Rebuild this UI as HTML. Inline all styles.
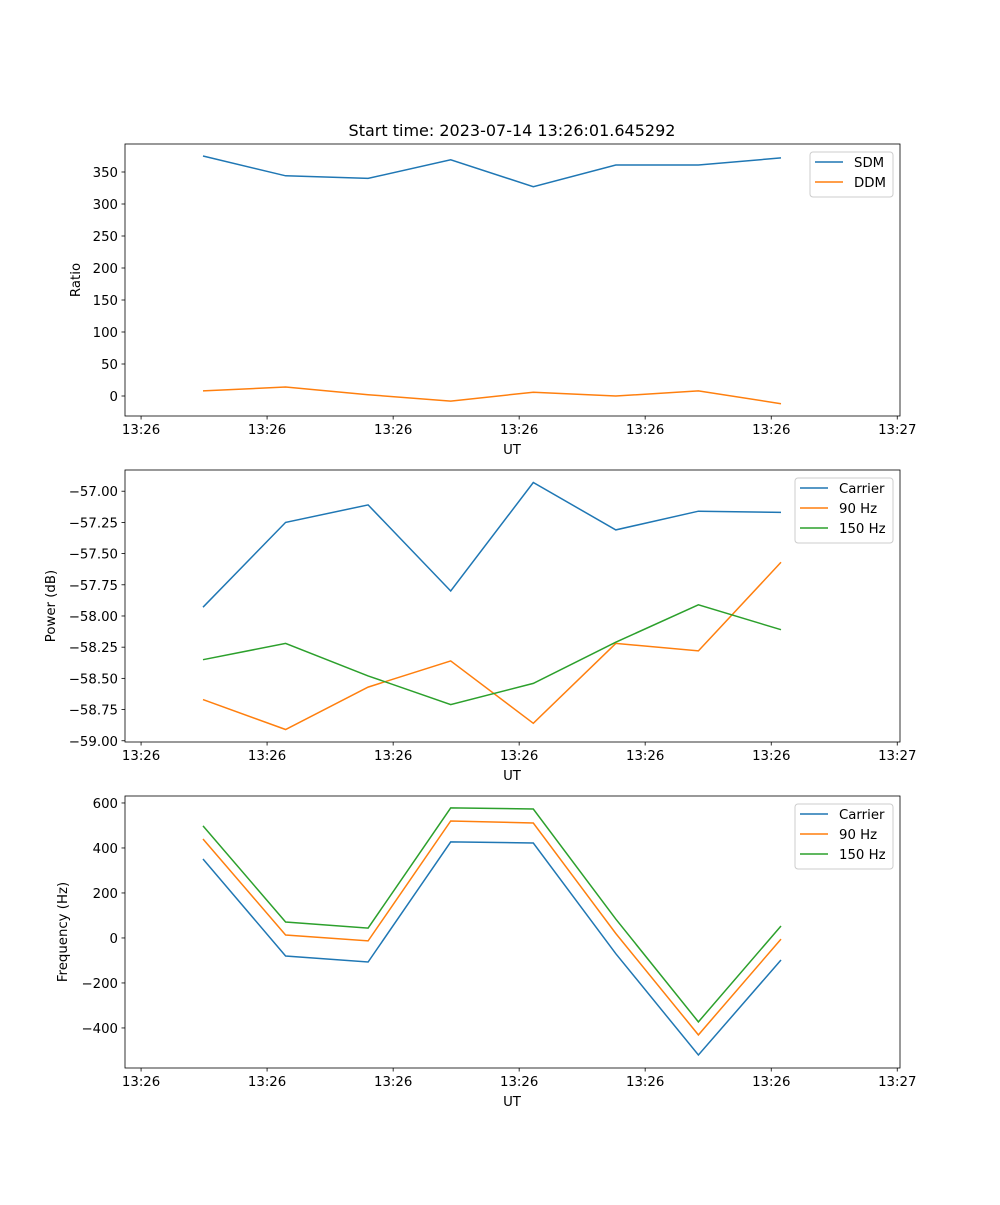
<!DOCTYPE html>
<html><head><meta charset="utf-8"><style>body{margin:0;background:#fff}svg{font-family:"DejaVu Sans","Liberation Sans",sans-serif}</style></head>
<body>
<svg id="fig" width="1000" height="1200" xmlns="http://www.w3.org/2000/svg">
<text x="512" y="136" font-size="16" text-anchor="middle">Start time: 2023-07-14 13:26:01.645292</text>
</svg>
<script>
const sampleIdx=[0,1,2,3,4,5,6,7];
const xTickVals=[-0.75,0.776,2.303,3.829,5.355,6.882,8.408];
const xTickLabels=["13:26","13:26","13:26","13:26","13:26","13:26","13:27"];
const sdm=[375,344,340,369,327,361,361,372];
const ddm=[8,14,2,-8,6,0,8,-12];
const ratioTicks=[0,50,100,150,200,250,300,350];
const pwrCarrier=[-57.93,-57.25,-57.11,-57.80,-56.93,-57.31,-57.16,-57.17];
const pwr90=[-58.67,-58.91,-58.57,-58.36,-58.86,-58.22,-58.28,-57.57];
const pwr150=[-58.35,-58.22,-58.48,-58.71,-58.54,-58.21,-57.91,-58.11];
const pwrTicks=[-57.00,-57.25,-57.50,-57.75,-58.00,-58.25,-58.50,-58.75,-59.00];
const frqCarrier=[351,-80,-107,427,422,-70,-520,-98];
const frq90=[440,13,-13,520,511,20,-431,-5];
const frq150=[498,71,44,578,573,84,-373,53];
const frqTicks=[600,400,200,0,-200,-400];

const NS="http://www.w3.org/2000/svg";
const svg=document.getElementById('fig');
function mk(tag,at,parent){const e=document.createElementNS(NS,tag);for(const k in at)e.setAttribute(k,at[k]);(parent||svg).appendChild(e);return e;}
const L=125,R=900,FS=13.3;
function xS(v){return 203+(v)*82.57;}
function panel(name,top,bot,ymin,ymax,yTicks,fmt,ylabel,series,legendBox){
  const g=mk('g',{});
  
  
  const yS=v=>bot-(v-ymin)/(ymax-ymin)*(bot-top);
  series.forEach(s=>{
    const pts=s.vals.map((v,i)=>xS(sampleIdx[i]).toFixed(1)+','+yS(v).toFixed(1)).join(' ');
    const p=mk('polyline',{points:pts,fill:'none',stroke:s.color,'stroke-width':1.5},g);
    
    
  });
  const fr=mk('rect',{x:L,y:top,width:R-L,height:bot-top,fill:'none',stroke:'#000','stroke-width':0.8},g);
  
  
  xTickVals.forEach((v,i)=>{const x=xS(v);
    mk('line',{x1:x,x2:x,y1:bot,y2:bot+3.5,stroke:'#000','stroke-width':0.8},g);
    const t=mk('text',{x:x,y:bot+18,'font-size':FS,'text-anchor':'middle'},g);t.textContent=xTickLabels[i];
    
    
  });
  yTicks.forEach(v=>{const y=yS(v);
    mk('line',{x1:L-3.5,x2:L,y1:y,y2:y,stroke:'#000','stroke-width':0.8},g);
    const t=mk('text',{x:L-7,y:y+5,'font-size':FS,'text-anchor':'end'},g);t.textContent=fmt(v);
    
    
  });
  const xl=mk('text',{x:512,y:bot+38,'font-size':FS,'text-anchor':'middle'},g);xl.textContent='UT';
  
  
  const cy=(top+bot)/2;
  const yl=mk('text',{x:0,y:0,'font-size':FS,'text-anchor':'middle',transform:`translate(${legendBox.yl},${cy}) rotate(-90)`},g);yl.textContent=ylabel;
  
  
  const lg=mk('g',{},g);
  
  
  mk('rect',{x:legendBox.x,y:top+8,width:893-legendBox.x,height:series.length*20+5,fill:'#fff',stroke:'#ccc',rx:3},lg);
  series.forEach((s,i)=>{const y=top+18+i*20;
    mk('line',{x1:legendBox.x+5,x2:legendBox.x+33,y1:y,y2:y,stroke:s.color,'stroke-width':1.5},lg);
    const t=mk('text',{x:legendBox.x+44,y:y+5,'font-size':FS},lg);t.textContent=s.label;
    
    
  });
}
panel('ratio',144,416,-31.25,393.75,ratioTicks,v=>v.toString().replace('-','\u2212'),'Ratio',
 [{key:'sdm',label:'SDM',vals:sdm,color:'#1f77b4'},{key:'ddm',label:'DDM',vals:ddm,color:'#ff7f0e'}],{x:810,yl:80});
panel('power',470,742,-59.01,-56.83,pwrTicks,v=>v.toFixed(2).replace('-','\u2212'),'Power (dB)',
 [{key:'carrier',label:'Carrier',vals:pwrCarrier,color:'#1f77b4'},{key:'90hz',label:'90 Hz',vals:pwr90,color:'#ff7f0e'},{key:'150hz',label:'150 Hz',vals:pwr150,color:'#2ca02c'}],{x:795,yl:55});
panel('frequency',796,1068,-578,631,frqTicks,v=>v.toString().replace('-','\u2212'),'Frequency (Hz)',
 [{key:'carrier',label:'Carrier',vals:frqCarrier,color:'#1f77b4'},{key:'90hz',label:'90 Hz',vals:frq90,color:'#ff7f0e'},{key:'150hz',label:'150 Hz',vals:frq150,color:'#2ca02c'}],{x:795,yl:67});
</script>
</body></html>
